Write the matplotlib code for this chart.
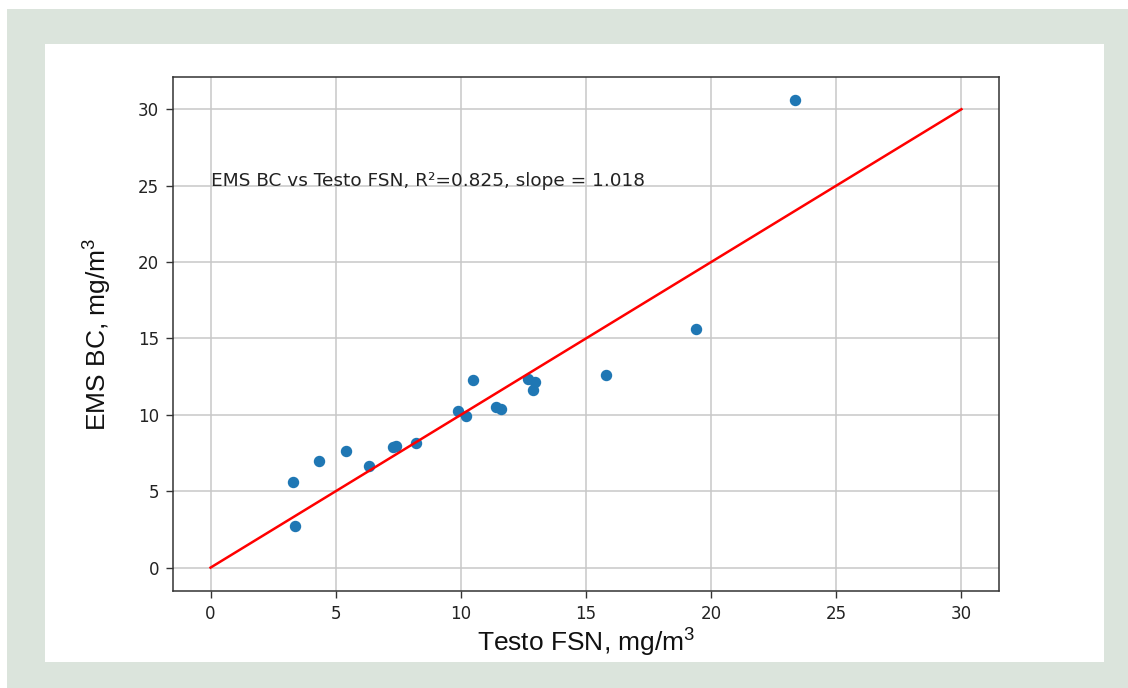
#!/usr/bin/env python3
"""EMS BC vs Testo FSN scatter with 1:1 style fit line."""

import matplotlib
matplotlib.use("Agg")
import matplotlib.pyplot as plt
from matplotlib.patches import Rectangle

# values
TESTO_FSN = [23.33, 19.38, 15.80, 10.50, 12.70, 12.95, 12.88, 11.42, 11.60,
             9.90, 10.22, 8.20, 7.28, 7.42, 6.35, 5.40, 4.35, 3.28, 3.36]
EMS_BC = [30.58, 15.59, 12.60, 12.27, 12.37, 12.18, 11.60, 10.52, 10.36,
          10.27, 9.90, 8.14, 7.88, 7.93, 6.68, 7.65, 6.95, 5.62, 2.74]

FIT_X = [0, 30]
FIT_Y = [0, 30]

ANNOTATION = "EMS BC vs Testo FSN, R\u00b2=0.825, slope = 1.018"
X_LABEL = r"Testo FSN, mg/m$^{\mathregular{3}}$"
Y_LABEL = r"EMS BC, mg/m$^{\mathregular{3}}$"

W, H = 1128, 688


def main() -> None:
    plt.rcParams["mathtext.fontset"] = "custom"
    plt.rcParams["mathtext.rm"] = "Liberation Sans"
    plt.rcParams["mathtext.default"] = "regular"

    fig = plt.figure(figsize=(W / 100, H / 100), dpi=100)
    fig.patch.set_facecolor("white")

    # slide-like frame: green band with a white panel inside
    fig.patches.append(Rectangle((7 / W, 0), 1 - 7 / W, (H - 9) / H,
                                 transform=fig.transFigure,
                                 facecolor="#dbe4dc", edgecolor="none",
                                 zorder=-2))
    fig.patches.append(Rectangle((45 / W, 26 / H), (1104 - 45) / W,
                                 (662 - 44) / H,
                                 transform=fig.transFigure,
                                 facecolor="white", edgecolor="none",
                                 zorder=-1))

    ax = fig.add_axes([173 / W, (H - 591) / H, 826 / W, 514 / H])

    ax.scatter(TESTO_FSN, EMS_BC, s=52, color="#1f77b4", zorder=3)
    ax.plot(FIT_X, FIT_Y, color="red", linewidth=1.8, zorder=4)

    ax.text(0, 25, ANNOTATION, fontsize=13.3, color="#222222")

    ax.set_xlim(-1.5, 31.5)
    ax.set_ylim(-1.53, 32.11)
    ax.set_xticks(range(0, 31, 5))
    ax.set_yticks(range(0, 31, 5))

    ax.grid(True, color="#c8c8c8", linewidth=1.1)
    ax.set_axisbelow(True)
    for sp in ax.spines.values():
        sp.set_linewidth(1.1)
        sp.set_color("#333333")
    ax.tick_params(labelsize=12, length=5, width=1.0, pad=5,
                   colors="#333333", labelcolor="#222222")

    ax.set_xlabel(X_LABEL, fontsize=19, family="Liberation Sans",
                  color="#111111")
    ax.set_ylabel(Y_LABEL, fontsize=19, family="Liberation Sans",
                  color="#111111")
    ax.xaxis.set_label_coords(0.5, -(627 - 591) / 514)
    ax.yaxis.set_label_coords(-(173 - 114) / 826, 0.5)

    fig.savefig("out.png", dpi=100)
    plt.close(fig)


if __name__ == "__main__":
    main()
